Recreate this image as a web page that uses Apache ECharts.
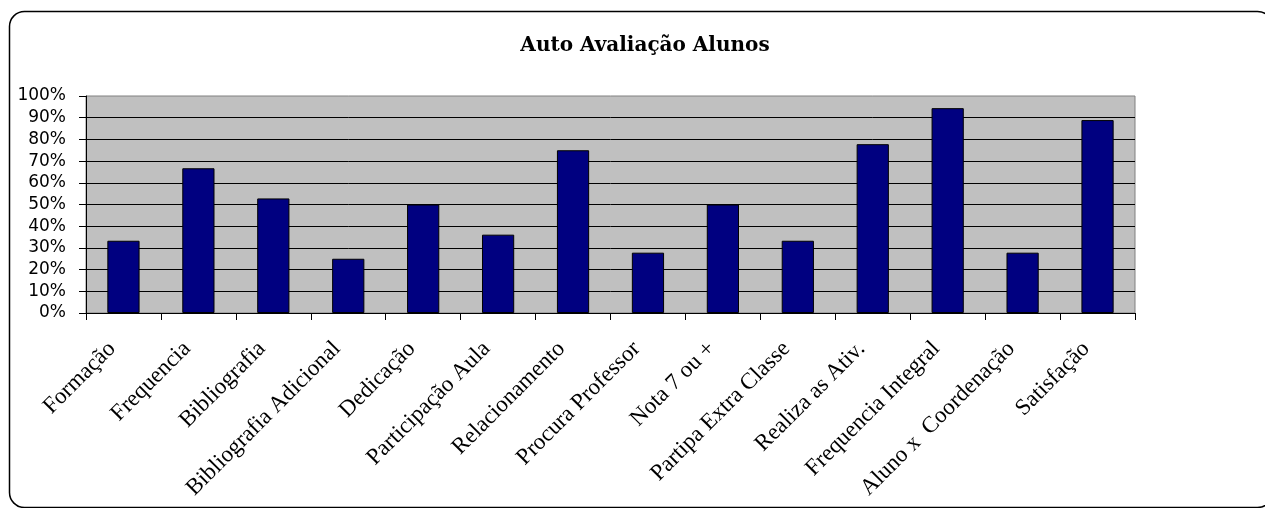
<!DOCTYPE html>
<html>
<head>
<meta charset="utf-8">
<script src="https://cdn.jsdelivr.net/npm/echarts@6/dist/echarts.min.js"></script>
<style>html,body{margin:0;padding:0;background:#fff}#c{width:1265px;height:508px}</style>
</head>
<body>
<div id="c"></div>
<script>
var chartTitle = 'Auto Avaliação Alunos';
var categories = ['Formação','Frequencia','Bibliografia','Bibliografia Adicional','Dedicação','Participação Aula','Relacionamento','Procura Professor','Nota 7 ou +','Partipa Extra Classe','Realiza as Ativ.','Frequencia Integral','Aluno x  Coordenação','Satisfação'];
var values = [0.333, 0.667, 0.528, 0.25, 0.5, 0.361, 0.75, 0.278, 0.5, 0.333, 0.778, 0.944, 0.278, 0.889];
var yMin = 0, yMax = 1, yStep = 0.1;

var chart = echarts.init(document.getElementById('c'), null, {renderer:'canvas'});
chart.setOption({
  animation: false,
  backgroundColor: '#ffffff',
  graphic: [{
    type: 'rect', silent: true, z: -10,
    shape: {x: 9.5, y: 11.5, width: 1263, height: 496, r: 15},
    style: {fill: 'none', stroke: '#000', lineWidth: 1.5}
  }],
  title: {
    text: chartTitle, left: 640, top: 31, textAlign: 'center',
    textStyle: {fontFamily: 'DejaVu Serif', fontWeight: 'bold', fontSize: 20, color: '#000'}
  },
  grid: {
    left: 86, right: 130, top: 96, bottom: 195,
    show: true, backgroundColor: '#C0C0C0', borderColor: '#808080', borderWidth: 1
  },
  xAxis: {
    type: 'category', data: categories,
    axisLine: {show: true, lineStyle: {color: '#000', width: 1}},
    axisTick: {show: true, alignWithLabel: false, length: 7, lineStyle: {color: '#000'}},
    axisLabel: {rotate: 45, interval: 0, margin: 21, padding: [0, 16, 0, 0],
      fontFamily: 'Liberation Serif', fontSize: 23, color: '#000'},
    splitLine: {show: false}
  },
  yAxis: {
    type: 'value', min: yMin, max: yMax, interval: yStep,
    axisLine: {show: true, lineStyle: {color: '#000', width: 1}},
    axisTick: {show: true, length: 7, lineStyle: {color: '#000'}},
    axisLabel: {margin: 20, fontFamily: 'DejaVu Sans', fontSize: 17, color: '#000',
      formatter: function(v){ return Math.round(v*100) + '%'; }},
    splitLine: {show: true, showMaxLine: false, lineStyle: {color: '#000', width: 1}}
  },
  series: [{
    type: 'bar', data: values, barWidth: '43%',
    itemStyle: {color: '#000080', borderColor: '#000', borderWidth: 1}
  }]
});
</script>
</body>
</html>
